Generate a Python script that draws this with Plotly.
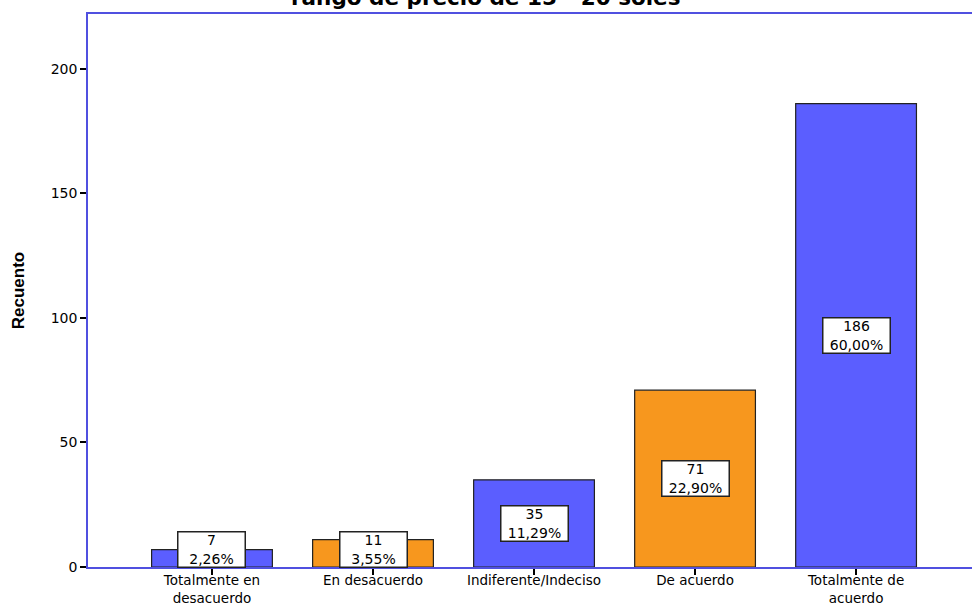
import plotly.graph_objects as go

categories = ["Totalmente en<br>desacuerdo", "En desacuerdo", "Indiferente/Indeciso",
              "De acuerdo", "Totalmente de<br>acuerdo"]
counts = [7, 11, 35, 71, 186]
percents = ["2,26%", "3,55%", "11,29%", "22,90%", "60,00%"]
bar_colors = ["#5B5EFF", "#F7971E", "#5B5EFF", "#F7971E", "#5B5EFF"]
y_ticks = [0, 50, 100, 150, 200]
title_text = "rango de precio de 15 - 20 soles"

FONT = "DejaVu Sans"
xs = list(range(len(categories)))
fig = go.Figure()
fig.add_trace(go.Bar(
    x=xs, y=counts, width=0.75,
    marker=dict(color=bar_colors, line=dict(color="#222222", width=1.2)),
    hoverinfo="skip",
))

y_max = 222
min_label = 7.0
for x, c, p in zip(xs, counts, percents):
    fig.add_annotation(
        x=x, y=max(c / 2, min_label), xref="x", yref="y",
        text=f"{c}<br>{p}", showarrow=False,
        font=dict(family=FONT, size=14, color="black"),
        bgcolor="white", bordercolor="#222222", borderwidth=1.5, borderpad=0,
        width=66, height=34,
    )

fig.add_annotation(
    x=(485 - 88) / (972 - 88), y=1, xref="paper", yref="paper", yanchor="middle",
    yshift=17, text=f"<b>{title_text}</b>", showarrow=False,
    font=dict(family=FONT, size=21.5, color="black"),
)

fig.update_layout(
    width=972, height=603,
    margin=dict(l=88, r=0, t=14, b=36, autoexpand=False),
    paper_bgcolor="white", plot_bgcolor="white",
    showlegend=False,
    font=dict(family=FONT, size=13, color="black"),
    xaxis=dict(
        range=[-0.77, 4.72], tickmode="array", tickvals=xs, ticktext=categories,
        showline=True, linecolor="#5050E0", linewidth=1.5, mirror=True,
        ticks="outside", ticklen=6, tickcolor="black", tickwidth=2,
        showgrid=False, zeroline=False, tickangle=0, automargin=False,
        ticklabelstandoff=-6,
        tickfont=dict(family=FONT, size=13.5),
    ),
    yaxis=dict(
        range=[0, y_max], tickmode="array", tickvals=y_ticks,
        showline=True, linecolor="#5050E0", linewidth=1.5,
        ticks="outside", ticklen=6, tickcolor="black", tickwidth=1.5,
        showgrid=False, zeroline=False, automargin=False,
        title=dict(text="<b>Recuento</b>", font=dict(family="Liberation Sans, Arial", size=17), standoff=22),
        tickfont=dict(family=FONT, size=14),
    ),
)

fig.write_html("out.html", config={"displayModeBar": False},
               post_script="document.body.style.margin='0';document.body.style.overflow='hidden';")
